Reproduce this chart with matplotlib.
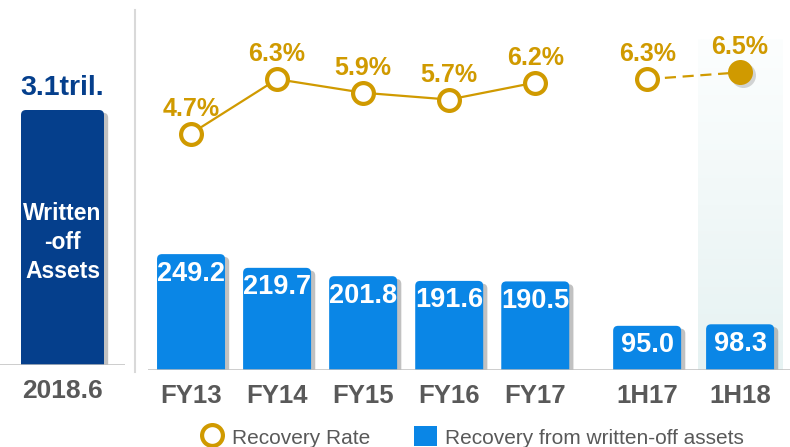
import matplotlib
matplotlib.use('Agg')
import matplotlib.pyplot as plt
import matplotlib.patheffects as pe
from matplotlib.patches import FancyBboxPatch, Patch
from matplotlib.lines import Line2D
from matplotlib.colors import LinearSegmentedColormap
from matplotlib.transforms import offset_copy
import numpy as np

plt.rcParams['font.family'] = ['Liberation Sans', 'DejaVu Sans']

# data
periods = ['FY13', 'FY14', 'FY15', 'FY16', 'FY17', '1H17', '1H18']
recovery = [249.2, 219.7, 201.8, 191.6, 190.5, 95.0, 98.3]   # bn yen
rate = [4.7, 6.3, 5.9, 5.7, 6.2, 6.3, 6.5]                   # %
wo_period = ['2018.6']
wo_value = [3.1]
wo_text = '3.1tril.'

# layout (x slots; half-year block sits a bit apart)
xpos = [0, 1, 2, 3, 4, 5.3, 6.38]

BLUE = '#0A86E6'
NAVY = '#053F8C'
GOLD = '#D09A00'
GREY = '#595959'
LINE = '#BFBFBF'

W, H = 790, 447
fig = plt.figure(figsize=(W / 100, H / 100), dpi=100)

shadow = [pe.SimplePatchShadow(offset=(3, -2), shadow_rgbFace='#777777', alpha=0.45), pe.Normal()]


def round_bars(ax, bars, color, r_px=5):
    bb = ax.get_window_extent()
    x0, x1 = ax.get_xlim()
    y0, y1 = ax.get_ylim()
    pxx = bb.width / (x1 - x0)
    pxy = bb.height / (y1 - y0)
    rs = r_px / pxx
    asp = pxx / pxy
    for b in bars:
        b.set_visible(False)
        p = FancyBboxPatch((b.get_x(), -20 / pxy), b.get_width(), b.get_height() + 20 / pxy,
                           boxstyle='round,pad=0,rounding_size=%f' % rs, mutation_aspect=asp,
                           fc=color, ec='none', zorder=3)
        p.set_path_effects(shadow)
        ax.add_patch(p)


# ---- left panel: written-off assets
axl = fig.add_axes([0, 1 - 365 / H, 125 / W, 365 / H])
axl.set_xlim(-0.75, 0.75)
axl.set_ylim(0, 3.1 * 365 / 255)
lb = axl.bar([0], wo_value, width=83 / 125 * 1.5, color=NAVY)
round_bars(axl, lb, NAVY, 5)
axl.axhline(0, color=LINE, lw=1.8, zorder=4)
axl.annotate(wo_text, (0, wo_value[0]), xytext=(0, 16), textcoords='offset points',
             ha='center', va='center', fontsize=20.5, fontweight='bold', color=NAVY)
axl.text(0, wo_value[0] * 0.48, 'Written\n-off\nAssets', ha='center', va='center',
         fontsize=16.5, fontweight='bold', color='white', linespacing=1.33, zorder=5)
axl.set_xticks([0], wo_period)
axl.tick_params(length=0, pad=10, labelsize=19, labelcolor=GREY)
for t in axl.get_xticklabels():
    t.set_fontweight('bold')
axl.set_yticks([])
for s in axl.spines.values():
    s.set_visible(False)

# separator
fig.add_artist(Line2D([135 / W, 135 / W], [1 - 372 / H, 1 - 10 / H], color='#D9D9D9', lw=1.5))

# ---- right panel: recovery
ax = fig.add_axes([148 / W, 1 - 370 / H, 642 / W, 370 / H])
ax.set_xlim(-0.5, 6.96)
ax.set_ylim(0, 370 / 0.465)

# soft highlight behind latest half-year
grad = np.linspace(0, 1, 200).reshape(-1, 1)
cmap = LinearSegmentedColormap.from_list('hl', ['#E6F2F2', '#FCFEFE'])
ax.imshow(grad, cmap=cmap, extent=[xpos[6] - 0.49, xpos[6] + 0.49, 0, 710],
          aspect='auto', origin='lower', zorder=0)

bars = ax.bar(xpos, recovery, width=0.79, color=BLUE)
round_bars(ax, bars, BLUE, 5)
for x, v in zip(xpos, recovery):
    ax.annotate('%.1f' % v, (x, v), xytext=(0, -14), textcoords='offset points',
                ha='center', va='center', fontsize=19.5, fontweight='bold', color='white', zorder=6)
ax.axhline(0, color=LINE, lw=1.8, zorder=4)
ax.set_xticks(xpos, periods)
ax.tick_params(length=0, pad=10, labelsize=18.5, labelcolor=GREY)
for t in ax.get_xticklabels():
    t.set_fontweight('bold')
ax.set_yticks([])
for s in ax.spines.values():
    s.set_visible(False)

# recovery rate on a twin scale
ax2 = ax.twinx()
ax2.set_ylim(5.943 - 278.7 / 34, 5.943 + 91.3 / 34)
ax2.set_yticks([])
for s in ax2.spines.values():
    s.set_visible(False)
ax2.plot(xpos[:5], rate[:5], color=GOLD, lw=1.6, marker='o', ms=15, mfc='white',
         mec=GOLD, mew=3, zorder=5)
ax2.plot(xpos[5:], rate[5:], color=GOLD, lw=1.6, ls=(0, (5, 3)), zorder=4)
ax2.plot([xpos[5]], [rate[5]], marker='o', ms=15, mfc='white', mec=GOLD, mew=3, zorder=5)
# latest point filled, with a soft drop shadow
sh = offset_copy(ax2.transData, fig=fig, x=2.5, y=-2.5, units='dots')
ax2.plot([xpos[6]], [rate[6]], marker='o', ms=18, mfc='#888888', mec='none', alpha=0.35,
         transform=sh, zorder=4)
ax2.plot([xpos[6]], [rate[6]], marker='o', ms=18, mfc=GOLD, mec='none', zorder=5)
for x, v in zip(xpos, rate):
    ax2.annotate('%.1f%%' % v, (x, v), xytext=(0, 18), textcoords='offset points',
                 ha='center', va='center', fontsize=18, fontweight='bold', color=GOLD)

# legend
handles = [Line2D([], [], ls='none', marker='o', ms=15, mfc='white', mec=GOLD, mew=3),
           Patch(fc=BLUE, ec='none')]
fig.legend(handles, ['Recovery Rate', 'Recovery from written-off assets'],
           loc='center', bbox_to_anchor=(0.598, 10 / H), ncol=2, frameon=False,
           fontsize=15, labelcolor=GREY, handlelength=1.1, handleheight=1.1,
           handletextpad=0.4, columnspacing=2.1, borderpad=0, borderaxespad=0)

fig.savefig('out.png', dpi=100)
